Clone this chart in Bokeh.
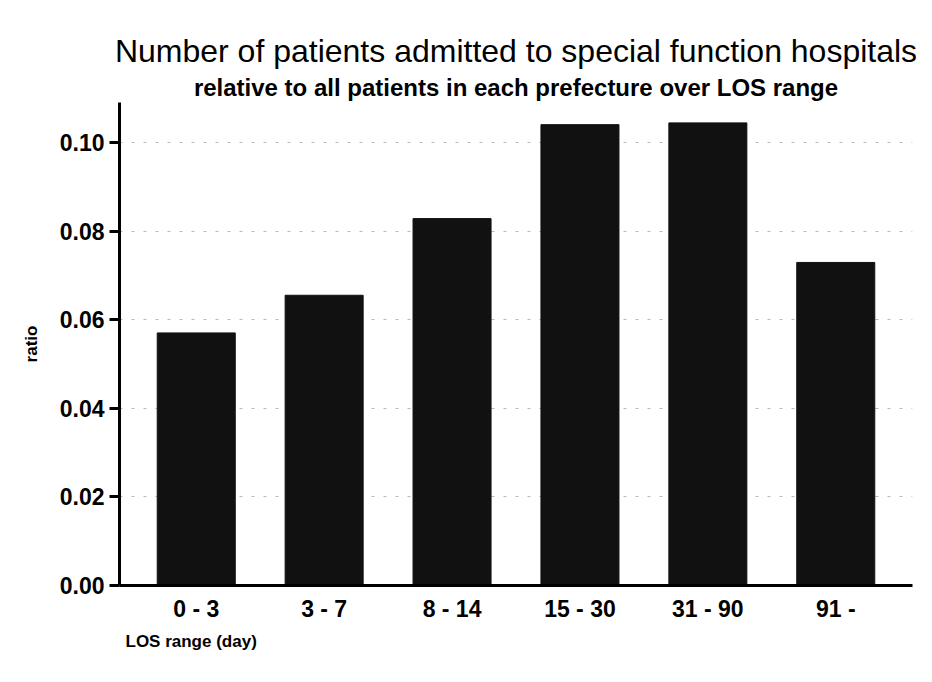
from bokeh.plotting import figure
from bokeh.models import FactorRange, Range1d, FixedTicker, Title, NumeralTickFormatter
from bokeh.embed import file_html
from bokeh.resources import INLINE

categories = ["0 - 3", "3 - 7", "8 - 14", "15 - 30", "31 - 90", "91 -"]
ratios = [0.057, 0.0655, 0.0828, 0.1040, 0.1044, 0.0729]
y_ticks = [0.0, 0.02, 0.04, 0.06, 0.08, 0.10]

FONT = "Liberation Sans"

p = figure(width=916, height=666, output_backend="svg", toolbar_location=None,
           x_range=FactorRange(factors=categories, range_padding=0.1, range_padding_units="absolute"),
           y_range=Range1d(0, 0.109),
           min_border_left=119, min_border_right=4, min_border_bottom=81, min_border_top=102)

p.vbar(x=categories, top=ratios, width=0.61, fill_color="#111111", line_color="#111111")

p.outline_line_color = None
p.background_fill_color = "white"
p.border_fill_color = "white"

p.xgrid.grid_line_color = None
p.ygrid.grid_line_color = "#888888"
p.ygrid.grid_line_alpha = 0.6
p.ygrid.grid_line_dash = "3 9"
p.ygrid.ticker = FixedTicker(ticks=y_ticks)

p.yaxis.ticker = FixedTicker(ticks=y_ticks)
p.yaxis.formatter = NumeralTickFormatter(format="0.00")
for ax in (p.xaxis[0], p.yaxis[0]):
    ax.axis_line_width = 3
    ax.axis_line_color = "black"
    ax.major_label_text_font = FONT
    ax.major_label_text_font_style = "bold"
    ax.major_label_text_color = "black"
    ax.major_label_text_font_size = "23px"
    ax.minor_tick_line_color = None
p.yaxis.major_tick_line_width = 3
p.yaxis.major_tick_out = 10
p.yaxis.major_tick_in = 0
p.yaxis.major_label_standoff = 5
p.yaxis.axis_label = "ratio"
p.yaxis.axis_label_text_font = FONT
p.yaxis.axis_label_text_font_style = "bold"
p.yaxis.axis_label_text_font_size = "17px"
p.yaxis.axis_label_text_color = "black"
p.yaxis.axis_label_standoff = 16
p.xaxis.major_tick_line_color = None
p.xaxis.major_tick_out = 0
p.xaxis.major_tick_in = 0
p.xaxis.major_label_standoff = 10

p.add_layout(Title(text="LOS range (day)", align="left", offset=6, text_font=FONT,
                   text_font_style="bold", text_font_size="17px", text_color="black"), "below")
p.add_layout(Title(text="relative to all patients in each prefecture over LOS range", align="center",
                   text_font=FONT, text_font_style="bold", text_font_size="24px",
                   text_color="black", standoff=3), "above")
p.add_layout(Title(text="Number of patients admitted to special function hospitals", align="center",
                   text_font=FONT, text_font_style="normal", text_font_size="32px",
                   text_color="black", standoff=4), "above")

open("out.html", "w").write(file_html(p, INLINE))
